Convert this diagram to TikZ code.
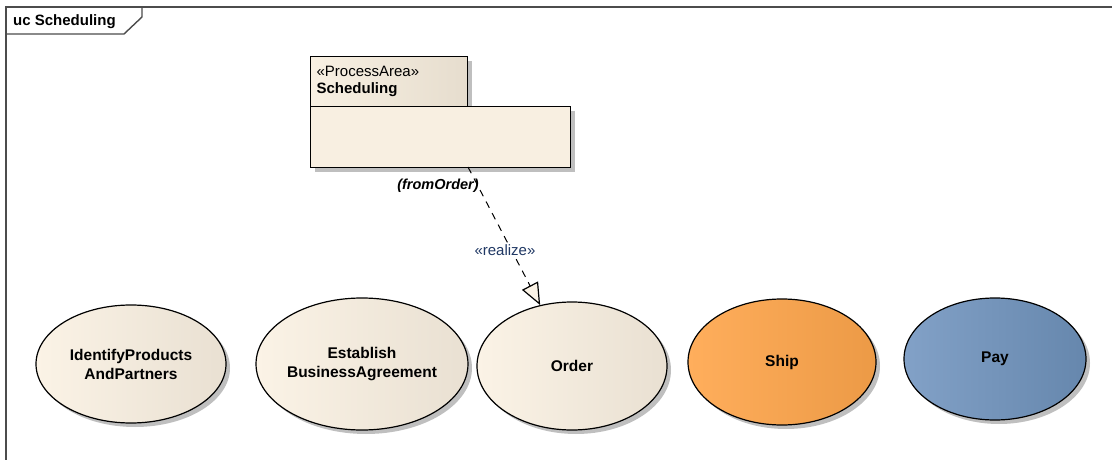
\documentclass[tikz,border=0pt]{standalone}
\usepackage{fontspec}
\setmainfont{Liberation Sans}
\usetikzlibrary{shapes.geometric,arrows.meta,shadows}
\definecolor{creamL}{HTML}{FBF3E6}
\definecolor{creamR}{HTML}{E9E0D2}
\definecolor{pkgL}{HTML}{F8F0E2}
\definecolor{pkgR}{HTML}{E6DDCE}
\definecolor{pkgbody}{HTML}{F8EFE1}
\definecolor{orangeL}{HTML}{FFAE5C}
\definecolor{orangeR}{HTML}{EC9A46}
\definecolor{blueL}{HTML}{82A1C7}
\definecolor{blueR}{HTML}{6687AD}
\definecolor{stereo}{HTML}{203864}
\begin{document}
\begin{tikzpicture}[x=1pt,y=-1pt,
  framel/.style={draw=black!70, line width=1.4pt},
  shad/.style={drop shadow={shadow xshift=4pt, shadow yshift=-4pt, fill=black!25, opacity=1}},
  uc/.style={ellipse, draw=black, line width=1.2pt, inner sep=0pt, align=center,
    font=\bfseries\fontsize{15.5}{19}\selectfont, shad},
  pkgbox/.style={rectangle, draw=black, line width=1.2pt, inner sep=0pt, anchor=north west, shad},
  realizeline/.style={draw=black, line width=1pt, dash pattern=on 7pt off 6pt,
    -{Triangle[length=22pt,width=18pt,fill=creamL,line width=1.2pt]}}
]
\useasboundingbox (0,0) rectangle (1112,460);
% frame
\draw[framel] (6,460) -- (6,7) -- (1112,7);
\draw[framel] (6,34) -- (124,34) -- (142,17) -- (142,7);
\node[anchor=base west, inner sep=0pt, font=\bfseries\fontsize{15}{17}\selectfont] (title) at (13,26) {uc Scheduling};
% package
\node[pkgbox, left color=pkgL, right color=pkgR, minimum width=157pt, minimum height=50pt,
  text width=145pt, inner xsep=6pt, align=left, font=\fontsize{15}{17.5}\selectfont] (pkgtab) at (310,56)
  {«ProcessArea»\\\textbf{Scheduling}};
\node[pkgbox, fill=pkgbody, minimum width=260pt, minimum height=61pt] (pkgmain) at (310,106) {};
\node[font=\bfseries\itshape\fontsize{14.5}{16}\selectfont, inner sep=0pt] (from) at (438,186) {(fromOrder)};
% use cases
\node[uc, left color=creamL, right color=creamR, minimum width=190pt, minimum height=118pt] (identify) at (131,364) {IdentifyProducts\\AndPartners};
\node[uc, left color=creamL, right color=creamR, minimum width=204pt, minimum height=132pt] (establish) at (362,364) {Establish\\BusinessAgreement};
\node[uc, left color=creamL, right color=creamR, minimum width=190pt, minimum height=128pt] (order) at (572,366) {Order};
\node[uc, left color=orangeL, right color=orangeR, minimum width=188pt, minimum height=126pt] (ship) at (782,362) {Ship};
\node[uc, left color=blueL, right color=blueR, minimum width=182pt, minimum height=122pt] (pay) at (995,359) {Pay};
% realization
\coordinate (rs) at (468,167);
\draw[realizeline] (rs) -- (order);
\node[text=stereo, fill=white, font=\fontsize{15}{17}\selectfont, inner xsep=0pt, inner ysep=1pt] (realize) at (505,250) {«realize»};
\end{tikzpicture}
\end{document}
